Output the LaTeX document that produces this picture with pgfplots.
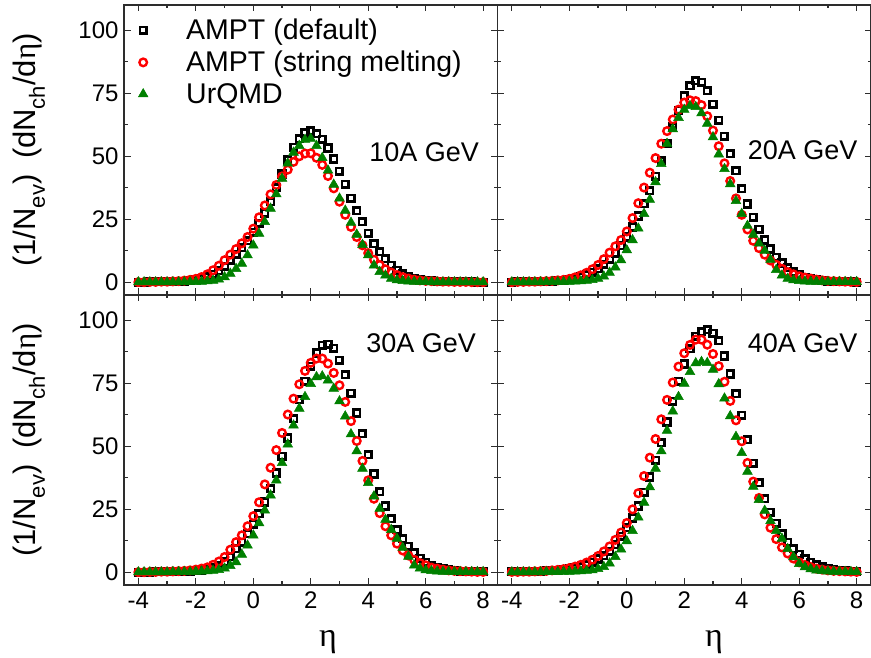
\documentclass[border=0pt]{standalone}
\usepackage{fontspec}
\setmainfont{Liberation Sans}
\newfontfamily\grk{Liberation Serif}
\usepackage{pgfplots}
\usepackage{pgfplotstable}
\pgfplotsset{compat=1.18}

\definecolor{ugreen}{RGB}{0,128,0}
\definecolor{axgray}{RGB}{45,45,45}

% eta, AMPT default (S), AMPT string melting (C), UrQMD (T)
\pgfplotstableread{
eta S C T
-4.0 0.1 0.1 0.1
-3.8 0.1 0.1 0.1
-3.6 0.2 0.2 0.1
-3.4 0.2 0.2 0.1
-3.2 0.2 0.3 0.1
-3.0 0.3 0.3 0.1
-2.8 0.3 0.4 0.1
-2.6 0.4 0.5 0.1
-2.4 0.5 0.7 0.2
-2.2 0.7 1.0 0.2
-2.0 1.0 1.4 0.2
-1.8 1.5 2.1 0.3
-1.6 2.2 3.2 0.5
-1.4 3.2 4.8 0.7
-1.2 4.6 6.6 1.2
-1.0 6.4 8.8 2.1
-0.8 8.8 11.0 3.5
-0.6 11.2 13.2 5.4
-0.4 13.8 15.5 7.5
-0.2 16.5 18.0 10.8
0.0 19.8 21.3 14.7
0.2 23.5 25.8 19.4
0.4 27.5 30.5 24.0
0.6 32.0 34.9 29.3
0.8 37.5 38.6 35.0
1.0 43.0 42.0 41.2
1.2 48.5 44.7 47.2
1.4 53.5 47.8 51.5
1.6 57.0 50.0 54.2
1.8 59.2 51.1 56.6
2.0 60.0 51.2 57.0
2.2 59.0 49.4 54.2
2.4 56.8 46.6 49.4
2.6 53.3 42.2 44.4
2.8 48.9 37.3 38.8
3.0 44.0 32.0 33.3
3.2 38.9 26.8 28.5
3.4 33.3 22.0 23.7
3.6 28.4 18.0 19.0
3.8 24.0 14.7 14.9
4.0 19.4 11.6 10.8
4.2 15.4 9.0 6.8
4.4 12.1 6.9 4.2
4.6 9.4 5.2 2.8
4.8 6.8 3.9 1.5
5.0 4.8 2.9 0.9
5.2 3.4 2.1 0.6
5.4 2.4 1.5 0.4
5.6 1.7 1.1 0.3
5.8 1.2 0.8 0.2
6.0 0.9 0.6 0.2
6.2 0.7 0.5 0.1
6.4 0.5 0.4 0.1
6.6 0.4 0.3 0.1
6.8 0.3 0.3 0.1
7.0 0.3 0.2 0.1
7.2 0.2 0.2 0.1
7.4 0.2 0.2 0.1
7.6 0.2 0.1 0.1
7.8 0.1 0.1 0.1
8.0 0.1 0.1 0.1
}\tenA

\pgfplotstableread{
eta S C T
-4.0 0.1 0.1 0.1
-3.8 0.2 0.2 0.1
-3.6 0.2 0.2 0.1
-3.4 0.2 0.3 0.1
-3.2 0.3 0.3 0.1
-3.0 0.3 0.4 0.1
-2.8 0.4 0.5 0.2
-2.6 0.5 0.6 0.2
-2.4 0.6 0.8 0.2
-2.2 0.8 1.0 0.2
-2.0 1.1 1.4 0.3
-1.8 1.5 2.0 0.4
-1.6 2.1 2.8 0.5
-1.4 2.9 3.8 0.7
-1.2 4.0 5.2 1.0
-1.0 5.4 6.9 1.5
-0.8 7.2 9.2 2.4
-0.6 9.2 11.8 3.9
-0.4 11.6 14.3 6.0
-0.2 14.6 16.8 8.8
0.0 18.0 20.2 12.8
0.2 22.0 25.5 16.8
0.4 26.3 31.4 21.4
0.6 31.2 37.6 27.2
0.8 36.4 43.5 32.8
1.0 42.0 49.3 39.8
1.2 48.2 55.0 47.0
1.4 55.2 60.0 55.0
1.6 61.6 64.6 60.8
1.8 68.2 68.5 65.3
2.0 74.0 71.3 68.5
2.2 78.0 72.2 70.0
2.4 80.0 71.9 69.6
2.6 79.3 70.3 67.1
2.8 76.0 65.9 63.0
3.0 70.6 60.2 57.6
3.2 64.3 54.0 50.8
3.4 57.9 47.2 45.0
3.6 51.0 40.2 39.0
3.8 44.3 33.3 32.3
4.0 37.2 26.8 27.2
4.2 31.1 21.0 22.5
4.4 25.8 16.5 19.0
4.6 21.0 13.6 15.5
4.8 16.8 11.0 12.6
5.0 13.2 8.7 9.0
5.2 10.0 7.0 5.0
5.4 7.7 5.4 2.8
5.6 5.8 4.1 1.5
5.8 4.1 3.2 0.9
6.0 2.9 2.4 0.6
6.2 2.0 1.9 0.4
6.4 1.4 1.5 0.3
6.6 1.0 1.1 0.3
6.8 0.7 0.8 0.2
7.0 0.5 0.6 0.2
7.2 0.4 0.5 0.2
7.4 0.3 0.4 0.2
7.6 0.2 0.3 0.2
7.8 0.2 0.2 0.2
8.0 0.1 0.2 0.2
}\twentyA

\pgfplotstableread{
eta S C T
-4.0 0.1 0.1 0.1
-3.8 0.1 0.1 0.1
-3.6 0.1 0.2 0.1
-3.4 0.2 0.2 0.1
-3.2 0.2 0.3 0.1
-3.0 0.2 0.3 0.1
-2.8 0.3 0.4 0.2
-2.6 0.3 0.5 0.2
-2.4 0.4 0.6 0.2
-2.2 0.5 0.8 0.2
-2.0 0.6 1.1 0.3
-1.8 0.8 1.5 0.4
-1.6 1.2 2.0 0.5
-1.4 1.8 3.0 0.7
-1.2 2.7 4.3 1.0
-1.0 4.1 6.1 1.6
-0.8 6.3 9.0 2.6
-0.6 9.4 12.0 4.1
-0.4 12.0 14.7 7.1
-0.2 15.3 18.3 10.7
0.0 19.0 22.3 14.7
0.2 23.3 27.8 19.6
0.4 27.9 34.9 24.6
0.6 33.2 41.5 30.6
0.8 39.4 48.5 36.5
1.0 46.0 55.3 43.4
1.2 53.3 62.6 50.8
1.4 60.9 68.9 58.3
1.6 68.5 74.6 65.0
1.8 75.8 79.9 69.6
2.0 81.7 83.1 74.8
2.2 87.0 84.8 77.5
2.4 90.0 84.8 77.8
2.6 90.5 82.8 76.2
2.8 88.8 79.1 72.9
3.0 84.1 74.2 67.9
3.2 78.4 67.6 61.9
3.4 71.0 60.0 54.8
3.6 63.2 52.1 48.1
3.8 55.0 44.2 41.2
4.0 46.6 36.5 35.5
4.2 39.0 29.2 30.2
4.4 32.0 23.5 25.3
4.6 26.3 18.3 20.9
4.8 21.3 14.7 16.9
5.0 17.0 11.4 13.4
5.2 13.4 8.7 9.8
5.4 10.3 6.7 6.3
5.6 7.7 5.0 2.8
5.8 5.6 3.7 1.6
6.0 4.0 2.8 0.9
6.2 2.8 1.9 0.6
6.4 2.0 1.5 0.4
6.6 1.4 1.1 0.3
6.8 1.0 0.8 0.3
7.0 0.7 0.6 0.2
7.2 0.5 0.5 0.2
7.4 0.4 0.4 0.2
7.6 0.3 0.3 0.2
7.8 0.2 0.2 0.2
8.0 0.2 0.2 0.2
}\thirtyA

\pgfplotstableread{
eta S C T
-4.0 0.2 0.2 0.1
-3.8 0.2 0.2 0.1
-3.6 0.3 0.3 0.1
-3.4 0.3 0.3 0.1
-3.2 0.4 0.4 0.1
-3.0 0.5 0.5 0.1
-2.8 0.6 0.6 0.2
-2.6 0.7 0.8 0.2
-2.4 0.9 1.0 0.2
-2.2 1.1 1.3 0.3
-2.0 1.4 1.7 0.3
-1.8 1.8 2.3 0.4
-1.6 2.3 3.0 0.5
-1.4 3.0 3.9 0.7
-1.2 4.0 5.0 0.9
-1.0 5.3 6.5 1.4
-0.8 6.6 8.3 2.2
-0.6 8.4 10.3 3.6
-0.4 11.0 12.9 6.2
-0.2 14.3 15.8 9.1
0.0 17.8 19.6 12.4
0.2 21.6 25.0 16.5
0.4 26.3 31.4 21.8
0.6 31.8 38.2 27.7
0.8 37.8 45.5 33.8
1.0 44.4 52.9 41.2
1.2 51.5 60.7 48.1
1.4 59.6 68.4 56.2
1.6 67.8 75.3 63.9
1.8 75.8 81.6 69.6
2.0 82.6 86.9 74.9
2.2 88.7 90.2 79.5
2.4 93.6 92.3 83.0
2.6 95.4 92.3 83.5
2.8 96.3 90.3 83.1
3.0 94.8 86.6 80.4
3.2 91.8 81.8 74.7
3.4 85.8 75.6 69.0
3.6 78.7 68.0 62.0
3.8 70.9 60.3 53.8
4.0 62.3 52.0 47.4
4.2 52.6 43.4 40.0
4.4 43.2 36.0 34.0
4.6 35.5 29.5 28.8
4.8 29.3 23.0 24.5
5.0 23.9 17.7 20.4
5.2 19.4 13.2 16.5
5.4 15.4 9.9 13.4
5.6 12.0 7.5 9.3
5.8 9.4 5.5 6.1
6.0 7.1 4.0 3.4
6.2 5.4 2.9 2.1
6.4 4.0 2.1 1.3
6.6 2.9 1.5 0.8
6.8 2.1 1.1 0.6
7.0 1.5 0.8 0.4
7.2 1.1 0.6 0.3
7.4 0.8 0.5 0.3
7.6 0.6 0.4 0.2
7.8 0.4 0.3 0.2
8.0 0.3 0.2 0.2
}\fortyA

\pgfplotsset{
  panel/.style={
    scale only axis, width=373.5bp, height=290bp,
    xmin=-4.5, xmax=8.5, ymin=-5, ymax=110,
    xtick={-4,-2,...,8}, minor xtick={-3,-1,...,7},
    ytick={0,25,...,100}, minor ytick={12.5,37.5,62.5,87.5},
    xtick pos=both, ytick pos=both,
    tick align=inside,
    major tick length=6.5bp, minor tick length=3.5bp,
    axis line style={line width=1.4bp, axgray},
    every tick/.append style={line width=1.2bp, axgray},
    tick label style={font=\fontsize{24bp}{28bp}\selectfont},
    yticklabel style={xshift=-2bp},
    xticklabel style={yshift=-3bp},
    /pgf/number format/assume math mode=true,
  },
  % invisible box sets the gap between legend mark and text
  legimg/.style={legend image code/.code={%
    \path[draw=none, fill=none] (0bp,-1bp) rectangle (60bp,1bp);
    \draw[only marks] plot coordinates {(19bp,0bp)};}},
  sq/.style={only marks, mark=square, mark size=3.3bp, black, mark options={line width=2.6bp}, legimg},
  ci/.style={only marks, mark=o, mark size=3.8bp, red, mark options={line width=2.4bp}, legimg},
  tr/.style={only marks, mark=triangle*, mark size=5.6bp, ugreen, mark options={line width=0.5bp}, legimg},
}

\newcommand{\ylab}{(1/N\raisebox{-0.3em}{\fontsize{22bp}{22bp}\selectfont ev})\hspace{0.5em}(dN\raisebox{-0.3em}{\fontsize{22bp}{22bp}\selectfont ch}/d{\grk η})}

\begin{document}
\begin{tikzpicture}
  % top left: 10A GeV
  \begin{axis}[panel, at={(124bp,363bp)}, anchor=south west, xticklabels={},
      legend style={at={(rel axis cs:0,1)}, anchor=north west, xshift=0bp, yshift=-12bp,
        draw=none, fill=none, inner sep=0pt, row sep=6bp,
        font=\fontsize{28.5bp}{33bp}\selectfont, cells={anchor=west}}]
    \addplot[sq] table[x=eta, y=S] {\tenA};
    \addplot[ci] table[x=eta, y=C] {\tenA};
    \addplot[tr] table[x=eta, y=T] {\tenA};
    \legend{AMPT (default), AMPT (string melting), UrQMD}
    \node[anchor=base east, font=\fontsize{27bp}{32bp}\selectfont] at ([xshift=-15bp]rel axis cs:1,0.4586) {10A GeV};
  \end{axis}
  % top right: 20A GeV
  \begin{axis}[panel, at={(497.5bp,363bp)}, anchor=south west, xticklabels={}, yticklabels={}]
    \addplot[sq] table[x=eta, y=S] {\twentyA};
    \addplot[ci] table[x=eta, y=C] {\twentyA};
    \addplot[tr] table[x=eta, y=T] {\twentyA};
    \node[anchor=base east, font=\fontsize{27bp}{32bp}\selectfont] at ([xshift=-10bp]rel axis cs:1,0.4655) {20A GeV};
  \end{axis}
  % bottom left: 30A GeV
  \begin{axis}[panel, at={(124bp,73bp)}, anchor=south west]
    \addplot[sq] table[x=eta, y=S] {\thirtyA};
    \addplot[ci] table[x=eta, y=C] {\thirtyA};
    \addplot[tr] table[x=eta, y=T] {\thirtyA};
    \node[anchor=base east, font=\fontsize{27bp}{32bp}\selectfont] at ([xshift=-18bp]rel axis cs:1,0.80) {30A GeV};
  \end{axis}
  % bottom right: 40A GeV
  \begin{axis}[panel, at={(497.5bp,73bp)}, anchor=south west, yticklabels={}]
    \addplot[sq] table[x=eta, y=S] {\fortyA};
    \addplot[ci] table[x=eta, y=C] {\fortyA};
    \addplot[tr] table[x=eta, y=T] {\fortyA};
    \node[anchor=base east, font=\fontsize{27bp}{32bp}\selectfont] at ([xshift=-10bp]rel axis cs:1,0.8034) {40A GeV};
  \end{axis}
  % axis titles
  \node[rotate=90, font=\fontsize{31bp}{36bp}\selectfont] at (29bp,508bp) {\ylab};
  \node[rotate=90, font=\fontsize{31bp}{36bp}\selectfont] at (29bp,218bp) {\ylab};
  \node[font=\fontsize{34bp}{38bp}\grk\selectfont] at (328bp,16bp) {η};
  \node[font=\fontsize{34bp}{38bp}\grk\selectfont] at (714bp,16bp) {η};
  \pgfresetboundingbox
  \path[use as bounding box] (0bp,0bp) rectangle (871bp,658bp);
\end{tikzpicture}
\end{document}
